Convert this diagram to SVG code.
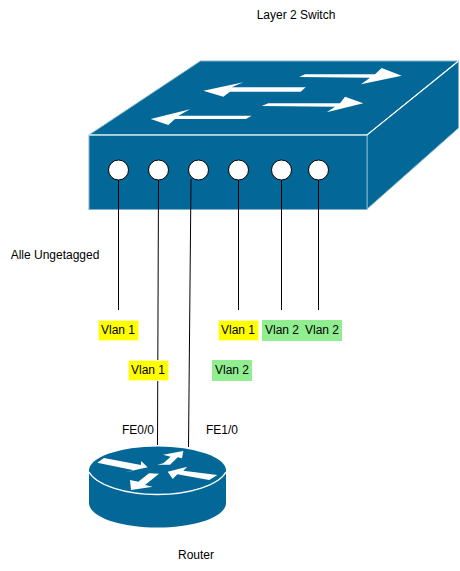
<svg xmlns="http://www.w3.org/2000/svg" width="460" height="571" viewBox="0 0 460 571">
<style>
text{font-family:"Liberation Sans",Arial,sans-serif;font-size:12px;fill:#000;text-anchor:middle}
.b{fill:#036897;stroke:#7fb3cb;stroke-width:1}
.f{fill:#036897}
.w{fill:#fff;stroke:none}
.p{fill:#fff;stroke:#000;stroke-width:1}
.c{fill:none;stroke:#000;stroke-width:1}
.y{fill:#ff0;stroke:#ffffa0;stroke-width:1}
.g{fill:#90ee90;stroke:none}
</style>
<rect width="460" height="571" fill="#fff"/>
<g id="switch">
<path class="b" d="M89 135L200.500 61H458.500L367 135Z"/>
<path class="b" d="M367 135L458.500 61V128L367 209Z"/>
<rect class="b" x="89" y="135" width="278" height="74.500"/>
<path d="M89 135H367L458.500 61" fill="none" stroke="#fff" stroke-width="1.200"/>
<path class="w" d="M299.300 77L305 74.300H375L381.700 68L401.700 75.700L361 84.300L370 77.700Z"/>
<path class="w" d="M203.300 90.700L243.300 82.300L231.700 87.300H305.700L300.700 91.700H230L223.300 96.700Z"/>
<path class="w" d="M261.700 106L268.300 103.300H340L345 96.700L363.300 103.300L326.700 112.300L335 106.700Z"/>
<path class="w" d="M150.700 119L190 109.300L178.300 115.700H251.700L246 119H175L168.300 125Z"/>
<circle class="p" cx="118.500" cy="170" r="10"/>
<circle class="p" cx="158.500" cy="170" r="10"/>
<circle class="p" cx="198.500" cy="170" r="10"/>
<circle class="p" cx="238.500" cy="170" r="10"/>
<circle class="p" cx="281.500" cy="170" r="10"/>
<circle class="p" cx="318.500" cy="170" r="10"/>
</g>
<g id="router">
<path class="f" d="M89 470V503C89 517 120 527.500 157.500 527.500C195 527.500 226 517 226 503V470Z"/>
<ellipse class="f" cx="157.500" cy="470.500" rx="68.500" ry="24"/>
<path d="M89 472C96 485 125 494.500 157.500 494.500C190 494.500 219 485 226 472" fill="none" stroke="#fff" stroke-width="1.300"/>
<path class="w" d="M97.300 462.800L104 458L141 465L141 461L147.700 467.300L125 472.300L135 470.500Z"/>
<path class="w" d="M157.300 464.700L163.300 463.300L170.700 456.700L163 454.700L183.300 451L182 458.300L177.700 457.300L170 464.700Z"/>
<path class="w" d="M167.700 471.700L187.300 466.700L183.300 470.700L217.300 475L209.300 480L177.300 474.300L172.700 479Z"/>
<path class="w" d="M159 473.700L149 473.300L138.300 481.700L130 480L131 490L152.700 486.700L145 485Z"/>
</g>
<g id="connectors">
<path class="c" d="M118.500 180V310"/>
<path class="c" d="M158.500 180L157.500 445"/>
<path class="c" d="M191 179L188.500 447"/>
<path class="c" d="M238.500 180V310"/>
<path class="c" d="M281.500 180V310"/>
<path class="c" d="M318.500 180V310"/>
</g>
<g id="label-switch"><text x="296" y="19">Layer 2 Switch</text></g>
<g id="label-untagged"><text x="55" y="259">Alle Ungetagged</text></g>
<g id="vlan-1"><rect class="y" x="98.500" y="320.500" width="40" height="20"/><text x="118" y="334">Vlan 1</text></g>
<g id="vlan-2"><rect class="y" x="128.500" y="360.500" width="40" height="20"/><text x="148" y="374">Vlan 1</text></g>
<g id="vlan-3"><rect class="y" x="218.500" y="320.500" width="40" height="20"/><text x="238" y="334">Vlan 1</text></g>
<g id="vlan-4"><rect class="g" x="262" y="320" width="40.500" height="21"/><text x="282" y="334">Vlan 2</text></g>
<g id="vlan-5"><rect class="g" x="302" y="320" width="40" height="21"/><text x="322" y="334">Vlan 2</text></g>
<g id="vlan-6"><rect class="g" x="212" y="360" width="40" height="21"/><text x="232" y="374">Vlan 2</text></g>
<g id="label-fe00"><text x="138" y="434">FE0/0</text></g>
<g id="label-fe10"><text x="222" y="434">FE1/0</text></g>
<g id="label-router"><text x="196" y="559">Router</text></g>
</svg>
